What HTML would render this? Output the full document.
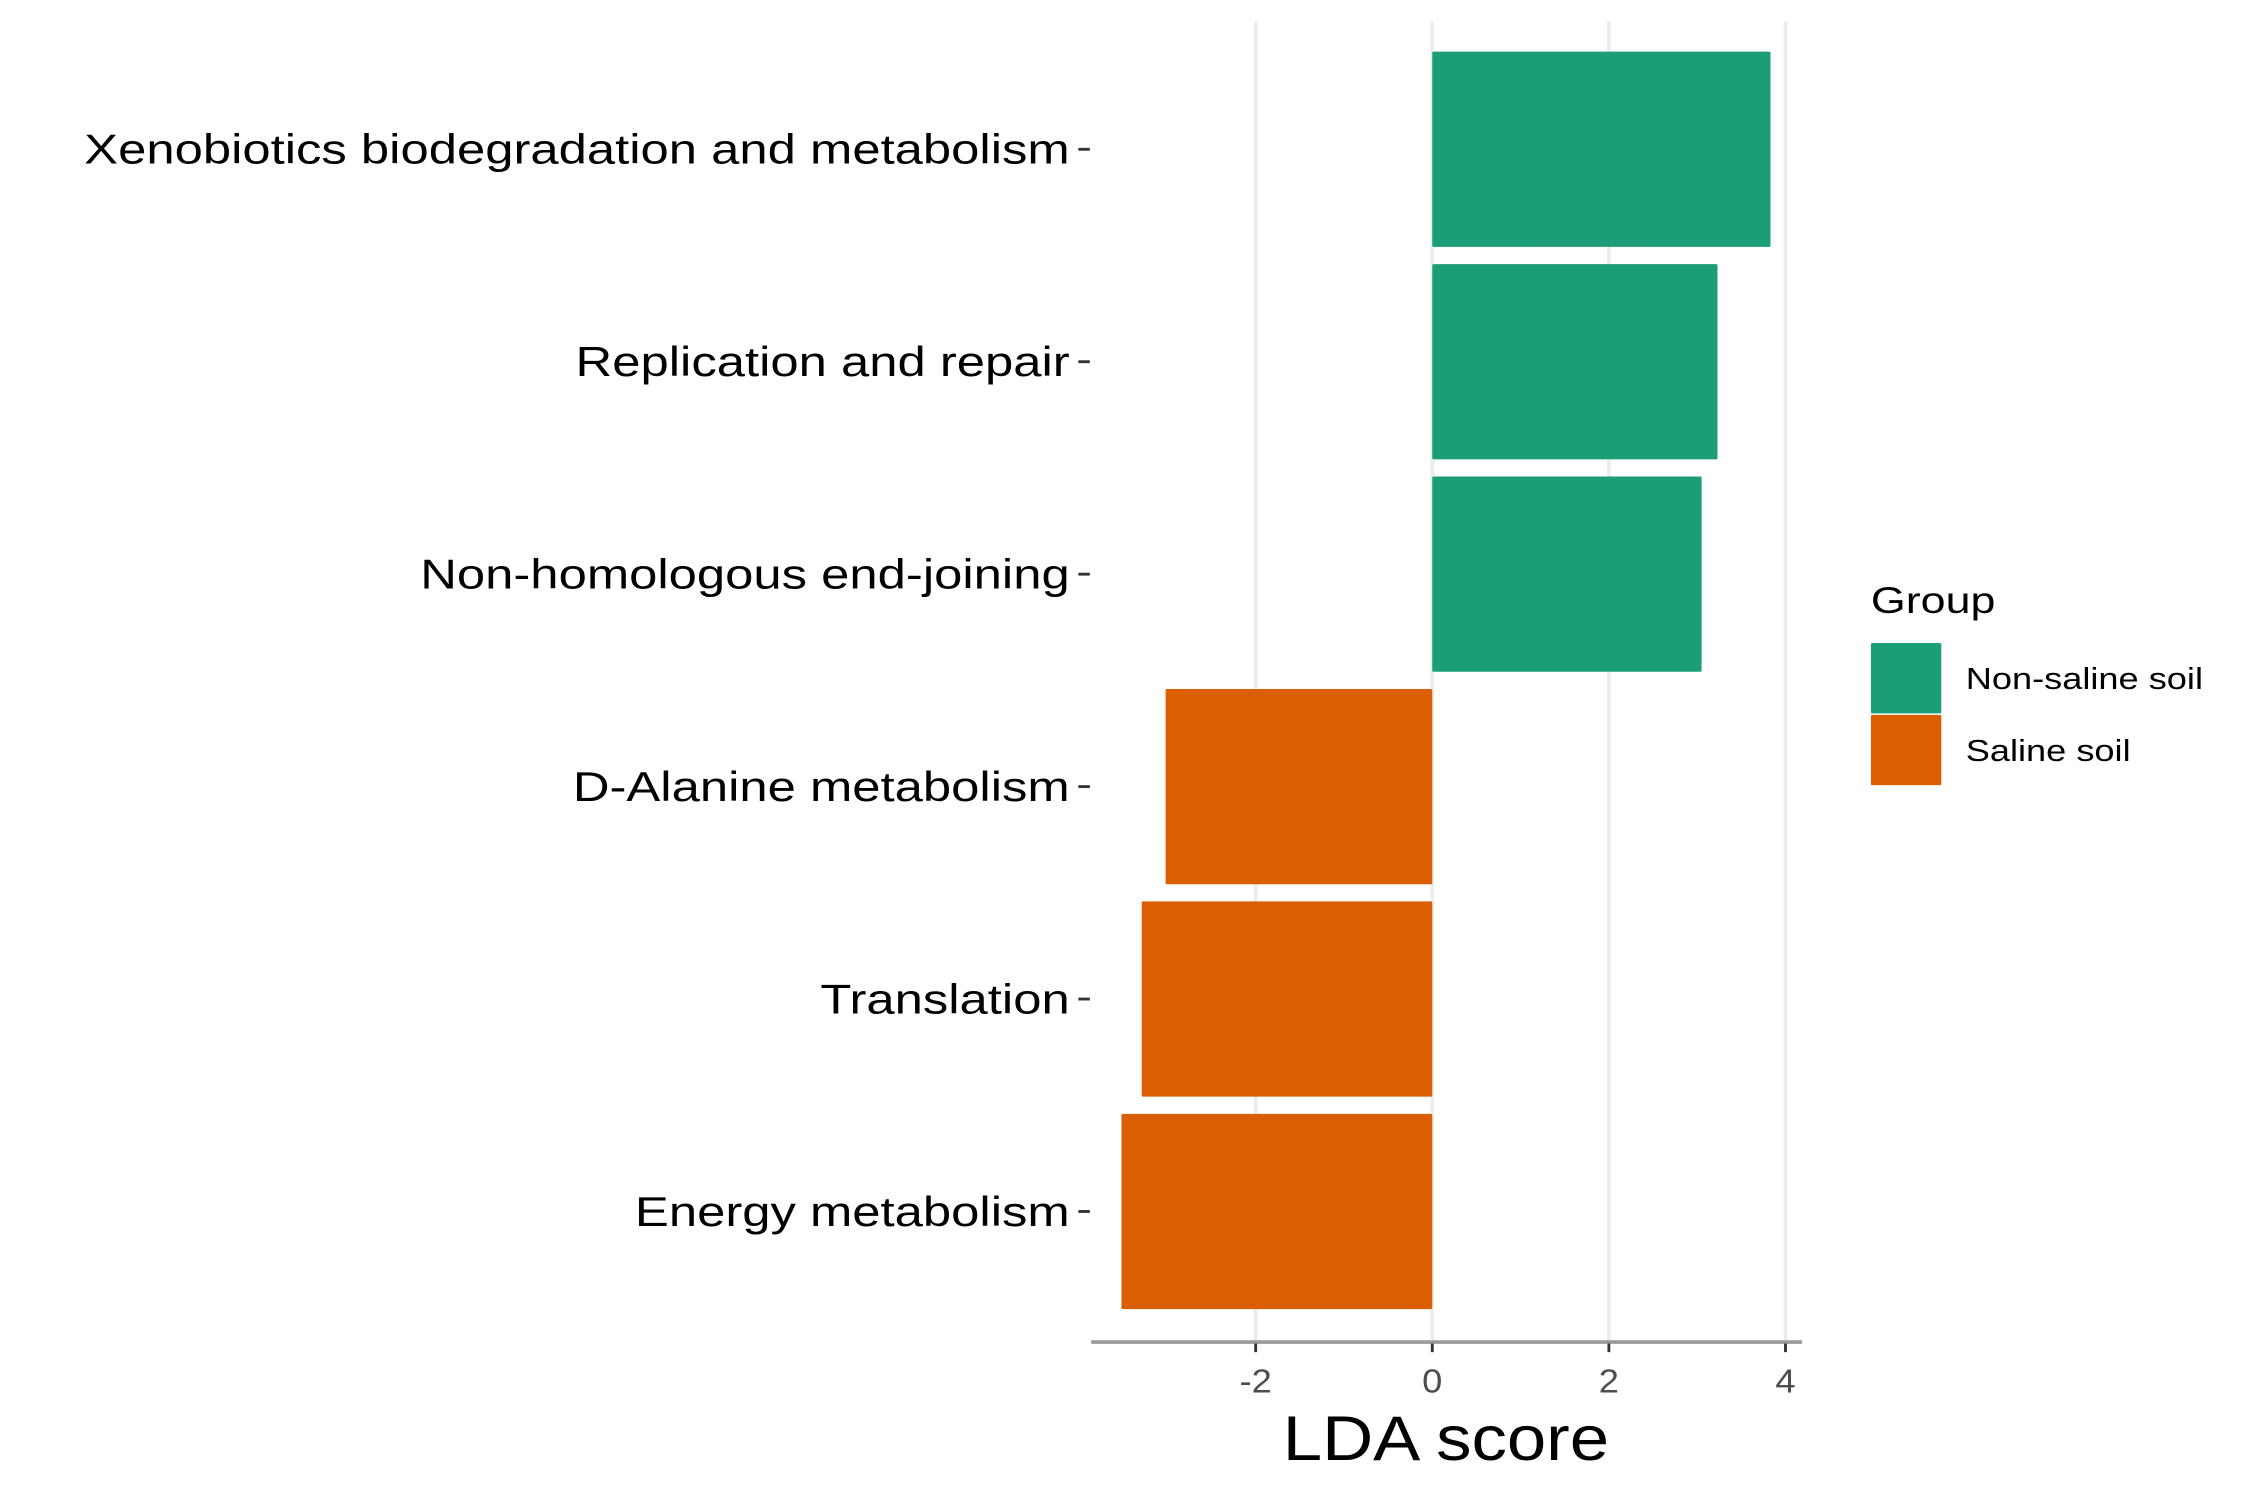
<!DOCTYPE html>
<html><head><meta charset="utf-8"><style>
html,body{margin:0;padding:0;background:#fff;}
svg{display:block;}
text{font-family:"Liberation Sans",Arial,sans-serif;}
</style></head><body>
<svg id="chart" width="2250" height="1500" viewBox="0 0 1567 1045" preserveAspectRatio="none" xmlns="http://www.w3.org/2000/svg">
<g id="grid"></g>
<g id="bars"></g>
<g id="yaxis"></g>
<g id="xaxis"></g>
<text transform="translate(1007,1017) scale(1.12,1)" font-size="44" text-anchor="middle" fill="#000">LDA score</text>
<g>
<text transform="translate(1303,427) scale(1.2,1)" font-size="26" fill="#000">Group</text>
<rect x="1303" y="448" width="49" height="49" fill="#1B9E77" rx="1"/>
<rect x="1303" y="498" width="49" height="49" fill="#D95F02" rx="1"/>
<text transform="translate(1369,480) scale(1.2,1)" font-size="21" fill="#000">Non-saline soil</text>
<text transform="translate(1369,530) scale(1.2,1)" font-size="21" fill="#000">Saline soil</text>
</g>
</svg>
<script>
const categories = ["Xenobiotics biodegradation and metabolism","Replication and repair","Non-homologous end-joining","D-Alanine metabolism","Translation","Energy metabolism"];
const ldaValues = [3.83, 3.23, 3.05, -3.02, -3.29, -3.52];
const groups = ["Non-saline soil","Non-saline soil","Non-saline soil","Saline soil","Saline soil","Saline soil"];
const xTicks = [-2, 0, 2, 4];

const NS = "http://www.w3.org/2000/svg";
const colors = {"Non-saline soil":"#1B9E77","Saline soil":"#D95F02"};
const x0 = 997.5, unit = 61.5;
const xScale = v => x0 + v * unit;
const bandTop = 30, band = 148;
const yCenter = i => bandTop + band * i + band / 2;
const barH = 136;
function mk(tag, attrs, parent){ const e=document.createElementNS(NS,tag); for(const k in attrs) e.setAttribute(k,attrs[k]); parent.appendChild(e); return e; }

const grid = document.getElementById('grid');
xTicks.forEach(t=>{
  const l = mk('line',{x1:xScale(t),x2:xScale(t),y1:15,y2:935,stroke:'#EBEBEB','stroke-width':2.5},grid);
  
  
});

const bars = document.getElementById('bars');
const yaxis = document.getElementById('yaxis');
categories.forEach((c,i)=>{
  const v = ldaValues[i];
  const x = Math.min(xScale(0), xScale(v)), w = Math.abs(xScale(v)-xScale(0));
  const r = mk('rect',{x:x,y:yCenter(i)-barH/2,width:w,height:barH,fill:colors[groups[i]],rx:1},bars);
  
  
  const t = mk('text',{transform:'translate(745,'+(yCenter(i)+10)+') scale(1.22,1)','font-size':29,'text-anchor':'end',fill:'#000'},yaxis);
  t.textContent = c;
  
  
  const tk = mk('line',{x1:751,x2:759,y1:yCenter(i),y2:yCenter(i),stroke:'#333','stroke-width':2},yaxis);
  
  
});

const xaxis = document.getElementById('xaxis');
const axl = mk('line',{x1:760,x2:1255,y1:935,y2:935,stroke:'#999','stroke-width':2.5},xaxis);


xTicks.forEach(t=>{
  const tk = mk('line',{x1:xScale(t),x2:xScale(t),y1:936,y2:942,stroke:'#333','stroke-width':2},xaxis);
  
  
  const lb = mk('text',{transform:'translate('+xScale(t)+',970) scale(1.1,1)','font-size':23,'text-anchor':'middle',fill:'#4D4D4D'},xaxis);
  lb.textContent = t;
  
  
});
</script>
</body></html>
